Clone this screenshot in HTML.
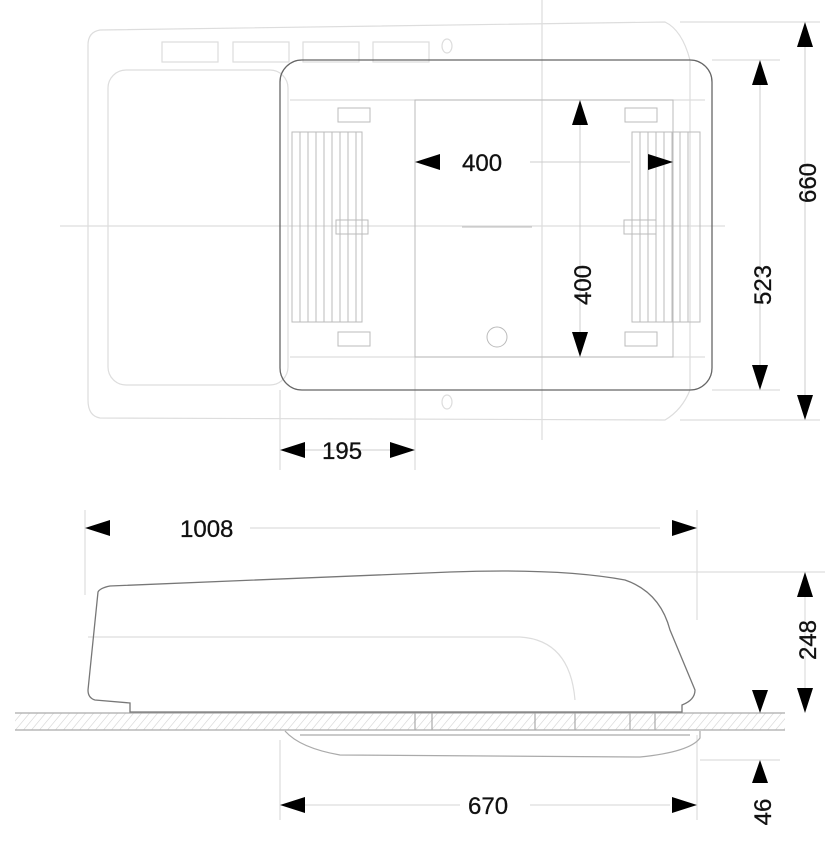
<!DOCTYPE html>
<html><head><meta charset="utf-8"><style>
html,body{margin:0;padding:0;background:#fff;width:839px;height:843px;overflow:hidden}
text{font-family:"Liberation Sans",sans-serif;font-size:24px;fill:#111;stroke:#111;stroke-width:0.3}
</style></head><body>
<svg width="839" height="843" viewBox="0 0 839 843" xmlns="http://www.w3.org/2000/svg">
<defs>
<pattern id="h" width="8" height="16" patternUnits="userSpaceOnUse" patternTransform="skewX(-40)"><line x1="4" y1="0" x2="4" y2="16" stroke="#ddd" stroke-width="1"/></pattern>
</defs>
<g fill="none" stroke="#ddd" stroke-width="1.2">
<line x1="542" y1="0" x2="542" y2="440"/>
<line x1="60" y1="226" x2="725" y2="226"/>
<path d="M100,30 L665,22 Q682,30 690,60 L690,390 Q682,410 665,420 L100,418 Q88,416 88,400 L88,45 Q88,32 100,30 Z"/>
<rect x="108" y="70" width="180" height="315" rx="18"/>
<rect x="162" y="42" width="56" height="20"/><rect x="233" y="42" width="56" height="20"/>
<rect x="303" y="42" width="56" height="20"/><rect x="373" y="42" width="56" height="20"/>
<ellipse cx="447" cy="46" rx="5" ry="7"/><ellipse cx="447" cy="402" rx="5" ry="7"/>
<line x1="290" y1="100" x2="705" y2="100"/><line x1="290" y1="357" x2="705" y2="357"/>
<line x1="415" y1="357" x2="415" y2="470"/><line x1="280" y1="390" x2="280" y2="470"/>
<line x1="680" y1="22" x2="820" y2="22"/><line x1="712" y1="60" x2="780" y2="60"/>
<line x1="712" y1="390" x2="780" y2="390"/><line x1="680" y1="420" x2="820" y2="420"/>
</g>
<g fill="none" stroke="#bbb" stroke-width="1">
<rect x="292" y="132" width="70" height="190"/><rect x="632" y="132" width="68" height="190"/>
<path d="M300,132v190M308,132v190M316,132v190M324,132v190M332,132v190M340,132v190M348,132v190M356,132v190M640,132v190M648,132v190M656,132v190M664,132v190M672,132v190M680,132v190M688,132v190"/>
<rect x="338" y="108" width="32" height="14"/><rect x="625" y="108" width="32" height="14"/>
<rect x="338" y="332" width="32" height="14"/><rect x="625" y="332" width="32" height="14"/>
<rect x="336" y="220" width="32" height="14"/><rect x="624" y="220" width="32" height="14"/>
<line x1="462" y1="227" x2="532" y2="227"/>
<circle cx="497" cy="337" r="10"/>
<rect x="415" y="100" width="258" height="257"/>
</g>
<rect x="280" y="60" width="432" height="330" rx="22" fill="none" stroke="#666" stroke-width="1.3"/>
<g stroke="#ccc" stroke-width="1" fill="none">
<line x1="530" y1="162" x2="630" y2="162"/>
<line x1="580" y1="110" x2="580" y2="345"/>
<line x1="760" y1="70" x2="760" y2="380"/>
<line x1="805" y1="30" x2="805" y2="410"/>
<line x1="300" y1="450" x2="400" y2="450"/>
</g>
<g fill="#000">
<path d="M415,162 l25,-8 v16z M673,162 l-25,-8 v16z"/>
<path d="M580,100 l-8,25 h16z M580,357 l-8,-25 h16z"/>
<path d="M760,60 l-8,25 h16z M760,390 l-8,-25 h16z"/>
<path d="M805,22 l-8,25 h16z M805,420 l-8,-25 h16z"/>
<path d="M280,450 l25,-8 v16z M415,450 l-25,-8 v16z"/>
</g>
<text x="462" y="171">400</text>
<text transform="translate(591,285) rotate(-90)" text-anchor="middle">400</text>
<text transform="translate(771,285) rotate(-90)" text-anchor="middle">523</text>
<text transform="translate(816,183) rotate(-90)" text-anchor="middle">660</text>
<text x="322" y="459">195</text>
<g fill="none" stroke="#ddd" stroke-width="1.2">
<line x1="85" y1="510" x2="85" y2="595"/><line x1="697" y1="510" x2="697" y2="620"/>
<line x1="600" y1="572" x2="825" y2="572"/>
<line x1="280" y1="740" x2="280" y2="820"/><line x1="697" y1="735" x2="697" y2="820"/>
<line x1="700" y1="760" x2="780" y2="760"/>
<line x1="250" y1="528" x2="660" y2="528"/>
<line x1="300" y1="805" x2="460" y2="805"/><line x1="530" y1="805" x2="670" y2="805"/>
<line x1="805" y1="585" x2="805" y2="700"/>
<path d="M88,637 L520,637 Q570,640 575,700"/>
</g>
<rect x="15" y="713" width="770" height="17" fill="url(#h)"/>
<g fill="none" stroke="#aaa" stroke-width="1.2">
<line x1="15" y1="713" x2="785" y2="713"/><line x1="15" y1="730" x2="785" y2="730"/>
<path d="M285,731 Q300,748 340,755 L640,757 Q690,752 700,738 L700,731"/>
<path d="M300,735 L690,735"/>
<path d="M415,713v17M432,713v17M535,713v17M575,713v17M630,713v17M655,713v17"/>
</g>
<path d="M98,592 Q100,588 110,586 L450,572 Q560,568 625,580 Q660,592 670,630 L695,690 Q695,700 682,705 L682,712 L130,712 L130,703 L95,700 Q88,698 88,690 Z" fill="none" stroke="#777" stroke-width="1.3"/>
<g fill="#000">
<path d="M85,528 l25,-8 v16z M697,528 l-25,-8 v16z"/>
<path d="M805,572 l-8,25 h16z M805,713 l-8,-25 h16z"/>
<path d="M760,713 l-8,-23 h16z M760,760 l-8,23 h16z"/>
<path d="M280,805 l25,-8 v16z M697,805 l-25,-8 v16z"/>
</g>
<text x="180" y="537">1008</text>
<text x="468" y="814">670</text>
<text transform="translate(816,640) rotate(-90)" text-anchor="middle">248</text>
<text transform="translate(771,812) rotate(-90)" text-anchor="middle">46</text>
</svg>
</body></html>
